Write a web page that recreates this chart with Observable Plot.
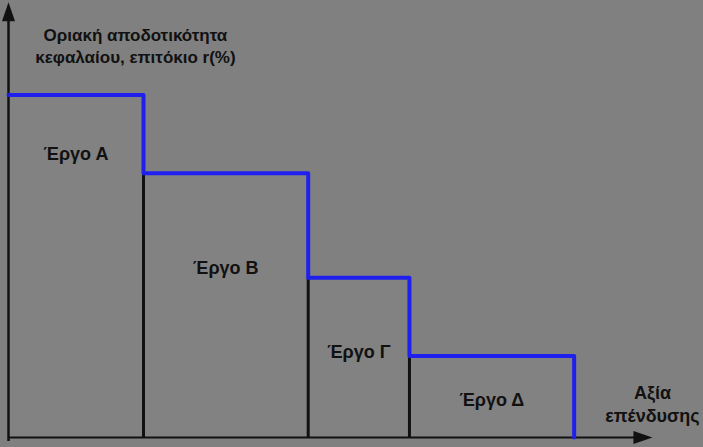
<!DOCTYPE html>
<html><head><meta charset="utf-8">
<script src="https://cdn.jsdelivr.net/npm/d3@7"></script>
<script src="https://cdn.jsdelivr.net/npm/@observablehq/plot@0.6"></script>
<style>html,body{margin:0;padding:0;background:#808080;overflow:hidden;}</style>
</head><body><div id="chart"></div>
<script>
// ---- data ----
const projects = ["Έργο Α", "Έργο Β", "Έργο Γ", "Έργο Δ"];
const investment = [10, 12.2, 7.5, 12.2];   // width of each project (investment value)
const rate = [10.5, 8.1, 4.9, 2.5];          // marginal efficiency of capital r(%)
const yTitle = ["Οριακή αποδοτικότητα", "κεφαλαίου, επιτόκιο r(%)"];
const xTitle = ["Αξία", "επένδυσης"];
const xAxisEnd = 47.7;
const yAxisEnd = 13.35;

// ---- derived tables ----
let cum = 0;
const bars = projects.map((p, i) => {
  const x1 = cum; cum += investment[i];
  return {project: p, x1, x2: cum, rate: rate[i]};
});
const stepPts = bars.map(b => ({x: b.x1, y: b.rate})).concat([{x: cum, y: 0}]);
const labelLevel = [8.7, 5.2, 2.6, 1.15];

const arrowHead = {
  draw(ctx) { const l = 19, w = 6.5; ctx.moveTo(0, 0); ctx.lineTo(w, l); ctx.lineTo(-w, l); ctx.closePath(); }
};

const ink = "#111";
const chart = Plot.plot({
  width: 703, height: 447,
  marginTop: 0, marginRight: 0, marginBottom: 0, marginLeft: 0,
  x: {domain: [0, 50], range: [8, 683], axis: null},
  y: {domain: [0, 13.4], range: [437, 0], axis: null},
  style: {background: "#808080", fontFamily: "'Liberation Sans', Arial, sans-serif"},
  marks: [
    Plot.rect(bars, {x1: "x1", x2: "x2", y1: 0, y2: "rate", fill: "#828282"}),
    Plot.ruleX(bars.slice(1), {x: "x1", y1: 0, y2: "rate", stroke: ink, strokeWidth: 3}),
    Plot.ruleY([0], {x1: 0, x2: xAxisEnd - 1, stroke: ink, strokeWidth: 2}),
    Plot.ruleX([0], {y1: -0.12, y2: yAxisEnd - 0.5, stroke: ink, strokeWidth: 2.5}),
    Plot.line(stepPts, {x: "x", y: "y", curve: "step-after", stroke: "#2020ee", strokeWidth: 4}),
    Plot.dot([{x: xAxisEnd, y: 0}], {x: "x", y: "y", symbol: arrowHead, fill: ink, stroke: "none", rotate: 90}),
    Plot.dot([{x: 0, y: yAxisEnd}], {x: "x", y: "y", symbol: arrowHead, fill: ink, stroke: "none"}),
    Plot.text(bars, {x: d => (d.x1 + d.x2) / 2, y: (d, i) => labelLevel[i], text: "project",
      fontSize: 18, fontWeight: "bold", fill: ink}),
    Plot.text([yTitle.join("\n")], {x: 9.4, y: 12.64, text: d => d, lineAnchor: "top",
      lineHeight: 1.3, fontSize: 17, fontWeight: "bold", fill: ink}),
    Plot.text([xTitle.join("\n")], {x: xAxisEnd, y: 1.69, text: d => d, lineAnchor: "top",
      lineHeight: 1.3, fontSize: 18, fontWeight: "bold", fill: ink})
  ]
});
document.getElementById("chart").appendChild(chart);
</script>
</body></html>
